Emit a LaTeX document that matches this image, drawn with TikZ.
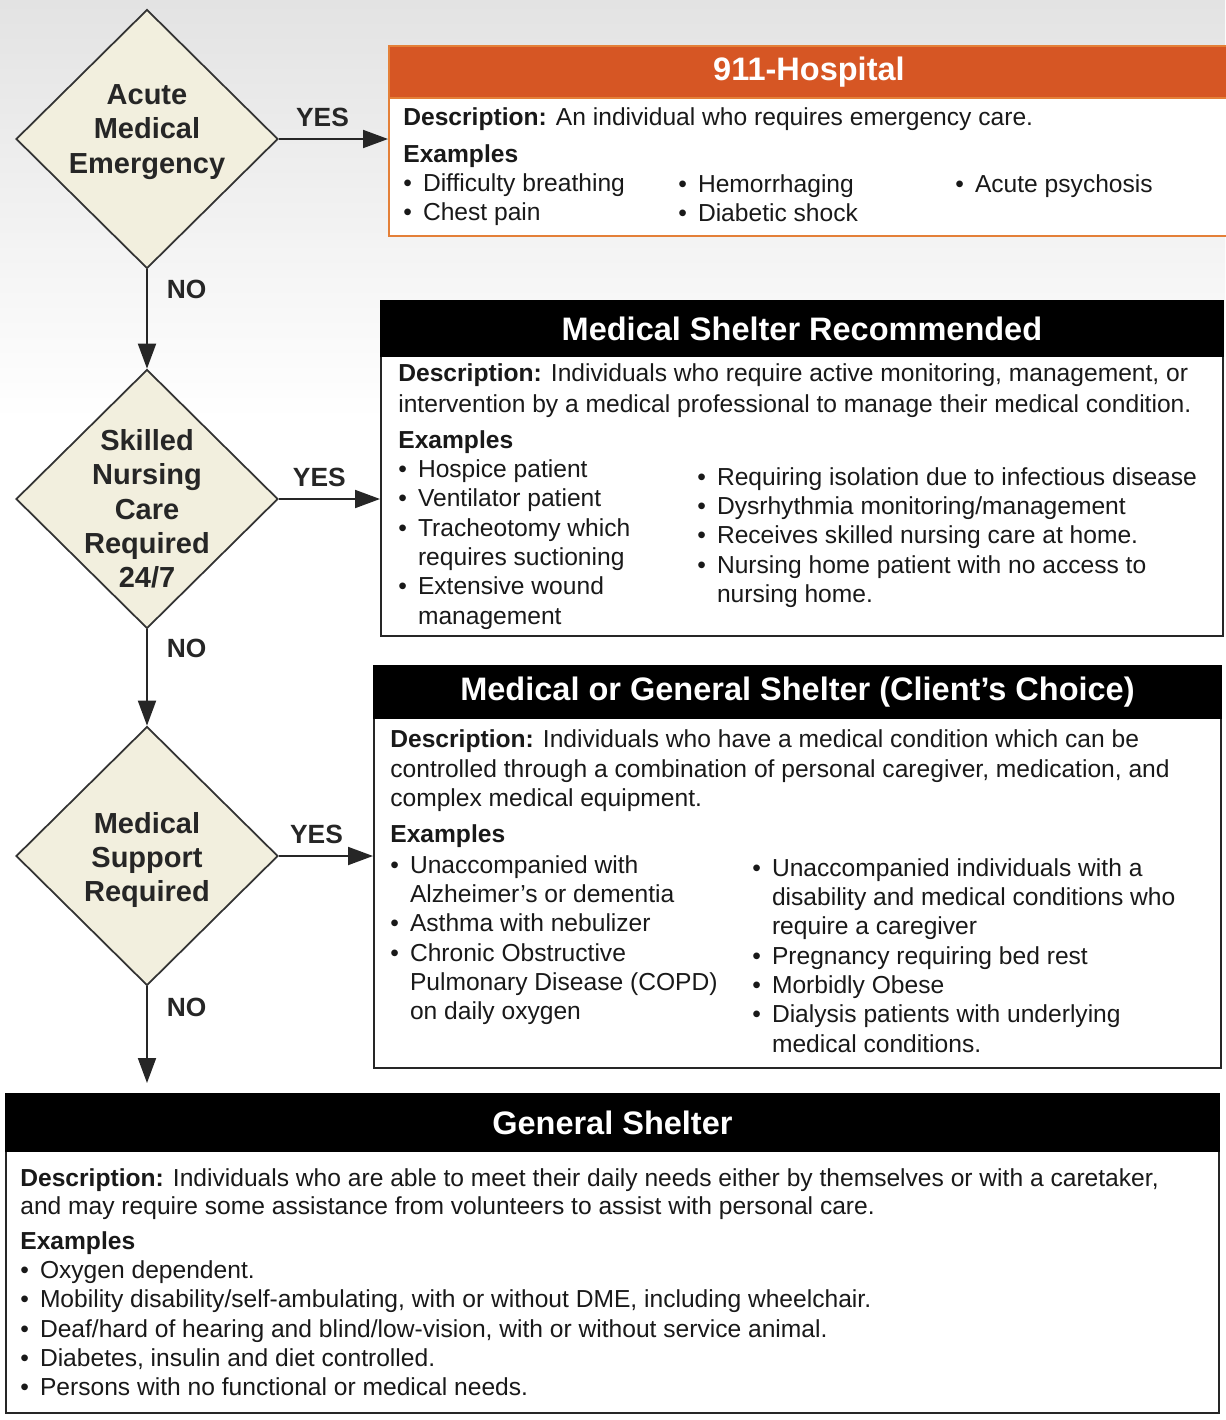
\documentclass[tikz,border=0pt]{standalone}
\usepackage{fontspec}
\setmainfont{Liberation Sans}
\usepackage{tikz}
\usetikzlibrary{shapes,arrows,arrows.meta,positioning,calc}
\definecolor{hospred}{RGB}{214,86,36}
\definecolor{hospline}{RGB}{228,128,56}
\definecolor{decfill}{RGB}{242,239,222}
\newcommand{\bul}{\makebox[0.8em][l]{\textbullet}}
\newcommand{\cnt}{\hspace*{0.8em}}
\newcommand{\desc}{\textbf{Description:} }

\begin{document}
\begin{tikzpicture}[x=0.02cm,y=-0.02cm,
	decision/.style={diamond,aspect=1,draw=black!80,line width=1pt,fill=decfill,minimum width=5.24cm,minimum height=5.18cm,inner sep=0pt},
	dtext/.style={align=center,inner sep=0pt,font=\fontsize{16.5}{19.5}\selectfont\bfseries,text=black!85},
	answer/.style={inner sep=0pt,font=\fontsize{15}{18}\selectfont\bfseries,text=black!85},
	flow/.style={line width=1.1pt,draw=black!85,-{Triangle[length=0.5cm,width=0.36cm]}},
	outbox/.style={anchor=north west,inner sep=0pt,draw=black!85,line width=1.2pt,fill=white},
	header/.style={anchor=north west,inner sep=0pt,draw=black,line width=1.2pt,fill=black,text=white,font=\fontsize{18.5}{22}\selectfont\bfseries},
	body/.style={anchor=north west,inner sep=0pt,align=left,font=\fontsize{14}{16.7}\selectfont,text=black!90},
	]
\useasboundingbox (0,0) rectangle (1225,1420);
\fill[top color=black!11,bottom color=white] (0,0) rectangle (1225,420);

% decisions
\node[decision] (d1) at (147,139) {};
\node[dtext,yshift=0.14cm] (d1t) at (d1) {Acute\\Medical\\Emergency};
\node[decision] (d2) at (147,499) {};
\node[dtext,yshift=-0.2cm] (d2t) at (d2) {Skilled\\Nursing\\Care\\Required\\24/7};
\node[decision] (d3) at (147,856) {};
\node[dtext,yshift=-0.08cm] (d3t) at (d3) {Medical\\Support\\Required};

% 911-Hospital
\node[outbox,draw=hospline,minimum width=16.8cm,minimum height=3.8cm] (b1) at (388,45) {};
\node[header,fill=hospred,draw=hospline,minimum width=16.8cm,minimum height=1.04cm] (h1) at (388,45) {911-Hospital};
\node[body] (b1d) at (403,107) {\desc An individual who requires emergency care.};
\node[body] (b1c1) at (403,144) {\textbf{Examples}\\ \bul Difficulty breathing\\ \bul Chest pain};
\node[body] (b1c2) at (678,174) {\bul Hemorrhaging\\ \bul Diabetic shock};
\node[body] (b1c3) at (955,174) {\bul Acute psychosis};

% medical shelter
\node[outbox,minimum width=16.84cm,minimum height=6.7cm] (b2) at (380,300) {};
\node[header,minimum width=16.84cm,minimum height=1.1cm] (h2) at (380,300) {Medical Shelter Recommended};
\node[body,font=\fontsize{14}{18}\selectfont] (b2d) at (398,363) {\desc Individuals who require active monitoring, management, or\\ intervention by a medical professional to manage their medical condition.};
\node[body] (b2c1) at (398,430) {\textbf{Examples}\\ \bul Hospice patient\\ \bul Ventilator patient\\ \bul Tracheotomy which\\ \cnt requires suctioning\\ \bul Extensive wound\\ \cnt management};
\node[body] (b2c2) at (697,467) {\bul Requiring isolation due to infectious disease\\ \bul Dysrhythmia monitoring/management\\ \bul Receives skilled nursing care at home.\\ \bul Nursing home patient with no access to\\ \cnt nursing home.};

% medical or general shelter
\node[outbox,minimum width=16.94cm,minimum height=8.04cm] (b3) at (373,665) {};
\node[header,minimum width=16.94cm,minimum height=1.04cm] (h3) at (373,665) {Medical or General Shelter (Client's Choice)};
\node[body,font=\fontsize{14}{17}\selectfont] (b3d) at (390,729) {\desc Individuals who have a medical condition which can be\\ controlled through a combination of personal caregiver, medication, and\\ complex medical equipment.};
\node[body] (b3c1) at (390,824) {\textbf{Examples}\\[1pt] \bul Unaccompanied with\\ \cnt Alzheimer's or dementia\\ \bul Asthma with nebulizer\\ \bul Chronic Obstructive\\ \cnt Pulmonary Disease (COPD)\\ \cnt on daily oxygen};
\node[body] (b3c2) at (752,858) {\bul Unaccompanied individuals with a\\ \cnt disability and medical conditions who\\ \cnt require a caregiver\\ \bul Pregnancy requiring bed rest\\ \bul Morbidly Obese\\ \bul Dialysis patients with underlying\\ \cnt medical conditions.};

% general shelter
\node[outbox,minimum width=24.26cm,minimum height=6.38cm] (b4) at (5,1093) {};
\node[header,minimum width=24.26cm,minimum height=1.14cm] (h4) at (5,1093) {General Shelter};
\node[body,font=\fontsize{14}{16}\selectfont] (b4d) at (20,1168) {\desc Individuals who are able to meet their daily needs either by themselves or with a caretaker,\\ and may require some assistance from volunteers to assist with personal care.};
\node[body] (b4c1) at (20,1231) {\textbf{Examples}\\ \bul Oxygen dependent.\\ \bul Mobility disability/self-ambulating, with or without DME, including wheelchair.\\ \bul Deaf/hard of hearing and blind/low-vision, with or without service animal.\\ \bul Diabetes, insulin and diet controlled.\\ \bul Persons with no functional or medical needs.};

% connectors
\draw[flow] (d1.east) -- node[answer,pos=0.4,above=0.22cm] (y1) {YES} (d1.east -| b1.west);
\draw[flow] (d2.east) -- node[answer,pos=0.4,above=0.22cm] (y2) {YES} (d2.east -| b2.west);
\draw[flow] (d3.east) -- node[answer,pos=0.4,above=0.22cm] (y3) {YES} (d3.east -| b3.west);
\draw[flow] (d1.south) -- node[answer,pos=0.2,right=0.38cm] (n1) {NO} (d2.north);
\draw[flow] (d2.south) -- node[answer,pos=0.2,right=0.38cm] (n2) {NO} (d3.north);
\draw[flow,shorten >=0.2cm] (d3.south) -- node[answer,pos=0.2,right=0.38cm] (n3) {NO} (d3.south |- b4.north);
\end{tikzpicture}
\end{document}
